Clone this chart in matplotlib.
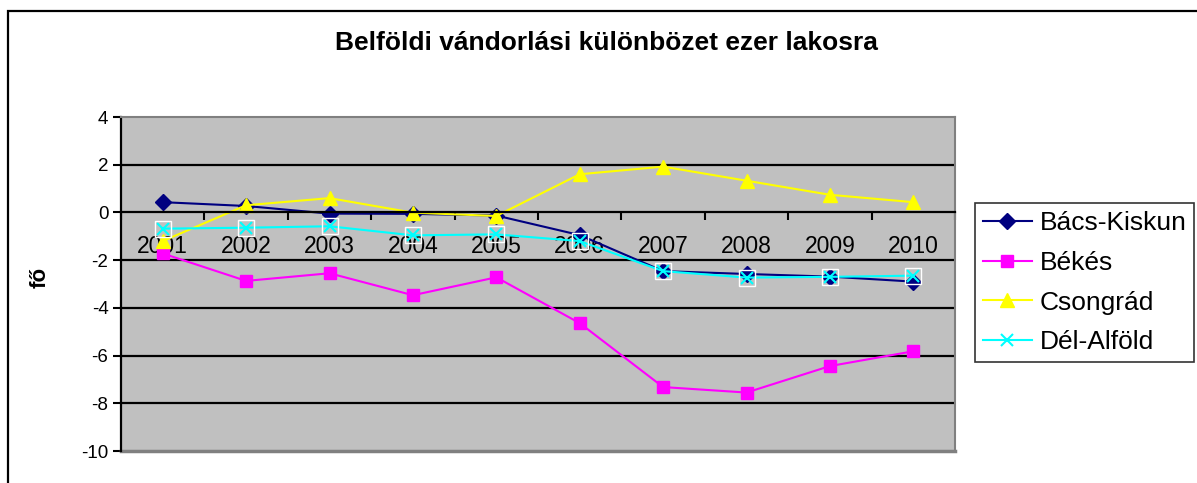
'''Belföldi vándorlási különbözet ezer lakosra - line chart'''
from matplotlib import pyplot as plt
from matplotlib.patches import Rectangle
from matplotlib.ticker import FixedLocator, NullFormatter

plt.rcParams['font.family'] = ['Liberation Sans', 'DejaVu Sans']
plt.rcParams['axes.unicode_minus'] = False

years = [2001, 2002, 2003, 2004, 2005, 2006, 2007, 2008, 2009, 2010]
series = {
    'Bács-Kiskun': [0.43, 0.27, -0.05, -0.06, -0.13, -0.95, -2.46, -2.58, -2.69, -2.9],
    'Békés': [-1.72, -2.87, -2.55, -3.47, -2.72, -4.64, -7.32, -7.55, -6.44, -5.82],
    'Csongrád': [-1.2, 0.3, 0.6, -0.01, -0.15, 1.6, 1.92, 1.33, 0.74, 0.43],
    'Dél-Alföld': [-0.68, -0.64, -0.58, -0.96, -0.92, -1.2, -2.46, -2.73, -2.7, -2.65],
}
styles = {
    'Bács-Kiskun': dict(color='#000080', marker='D', markersize=8),
    'Békés': dict(color='#FF00FF', marker='s', markersize=8),
    'Csongrád': dict(color='#FFFF00', marker='^', markersize=10),
    'Dél-Alföld': dict(color='#00FFFF', marker='x', markersize=9, markeredgewidth=1.5),
}

fig = plt.figure(figsize=(11.97, 4.83), dpi=100)
ax = fig.add_axes([121 / 1197, 1 - 451 / 483, (955 - 121) / 1197, (451 - 117) / 483])
ax.set_facecolor('#C0C0C0')
ax.set_axisbelow(True)

x = list(range(len(years)))

for g in [-8, -6, -4, -2, 2]:
    ax.axhline(g, color='black', lw=1.6, zorder=1)
ax.axhline(-10, color='#808080', lw=2.5, zorder=1, clip_on=False)

for name, vals in series.items():
    ax.plot(x, vals, lw=1.5, label=name, zorder=2, **styles[name])
    if name == 'Dél-Alföld':
        ax.plot(x, vals, ls='none', marker='s', markersize=12, mfc='none',
                mec='white', mew=1.0, zorder=2)

ax.set_xlim(-0.5, len(years) - 0.5)
ax.set_ylim(-10, 4)

ax.spines['bottom'].set_position(('data', 0))
ax.spines['bottom'].set_color('black')
ax.spines['bottom'].set_linewidth(1.6)
ax.spines['left'].set_color('black')
ax.spines['left'].set_linewidth(1.6)
for s in ['top', 'right']:
    ax.spines[s].set_color('#808080')
    ax.spines[s].set_linewidth(1.5)

ax.xaxis.set_major_locator(FixedLocator([i - 0.5 for i in range(len(years) + 1)]))
ax.xaxis.set_major_formatter(NullFormatter())
ax.set_xticks(x, [str(y) for y in years], minor=True)
ax.tick_params(axis='x', which='major', direction='out', length=6, width=1.5, color='black')
ax.tick_params(axis='x', which='minor', length=0, pad=16, labelsize=16.5)

ax.set_yticks(range(-10, 5, 2))
ax.tick_params(axis='y', direction='out', length=6, width=1.5, pad=3, labelsize=13.5)

fig.text(606 / 1197, 1 - 43 / 483, 'Belföldi vándorlási különbözet ezer lakosra',
         ha='center', va='center', fontsize=19, fontweight='bold')
fig.text(40 / 1197, 1 - 277 / 483, 'fő', ha='center', va='center', rotation=90,
         fontsize=16, fontweight='bold')

# chart area border (cropped on the right and bottom)
fig.patches.append(Rectangle((8 / 1197, -0.1), 1.2, 1.1 - 11 / 483, transform=fig.transFigure,
                             fill=False, ec='black', lw=1.6))

handles, labels = ax.get_legend_handles_labels()
leg = fig.legend(handles, labels, loc='upper left', bbox_to_anchor=(975 / 1197, 1 - 203 / 483),
                 fontsize=19, frameon=True, fancybox=False, edgecolor='black',
                 handlelength=1.85, labelspacing=0.6, borderpad=0.3, handletextpad=0.3,
                 borderaxespad=0)
leg.get_frame().set_linewidth(1.2)

fig.savefig('out.png', dpi=100, facecolor='white')
